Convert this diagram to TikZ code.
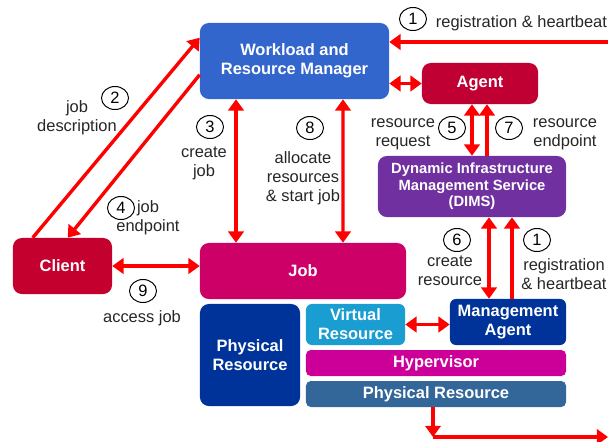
\documentclass[tikz,border=0pt]{standalone}
\usepackage{fontspec}
\setmainfont{Liberation Sans}
\usetikzlibrary{arrows.meta,shapes.geometric,calc}

\definecolor{wrmblue}{HTML}{3366CC}
\definecolor{agentred}{HTML}{C00033}
\definecolor{clientred}{HTML}{C4002E}
\definecolor{jobpink}{HTML}{CC0066}
\definecolor{dimspurple}{HTML}{7030A0}
\definecolor{navy}{HTML}{003399}
\definecolor{vresblue}{HTML}{1A9DD0}
\definecolor{hypermag}{HTML}{CC0099}
\definecolor{steel}{HTML}{336699}

\begin{document}
\begin{tikzpicture}[>={Triangle[length=8pt,width=11pt]},x=0.025cm,y=-0.025cm,
  font=\fontsize{11.7}{13.5}\selectfont,
  box/.style={rounded corners=0.22cm,text=white,font=\fontsize{11.7}{13.5}\selectfont\bfseries,align=center,inner sep=0pt},
  num/.style={draw,ellipse,line width=0.7pt,minimum width=0.675cm,minimum height=0.575cm,inner sep=0pt},
  lbl/.style={align=center,text=black!85},
  link/.style={red,line width=2.4pt}]
  \useasboundingbox (0,0) rectangle (608,442);

  \node[box,fill=wrmblue,minimum width=4.725cm,minimum height=1.9cm]  (wrm)    at (294.5,61)  {Workload and\\Resource Manager};
  \node[box,fill=agentred,minimum width=2.9cm,minimum height=1.025cm] (agent)  at (480,83.5)  {Agent};
  \node[box,fill=dimspurple,minimum width=4.7cm,minimum height=1.525cm,font=\fontsize{10.5}{11.8}\selectfont\bfseries] (dims) at (472,186.5) {Dynamic Infrastructure\\Management Service\\(DIMS)};
  \node[box,fill=clientred,minimum width=2.475cm,minimum height=1.4cm] (client) at (62.5,266)  {Client};
  \node[box,fill=jobpink,minimum width=5.15cm,minimum height=1.4cm]   (job)    at (303,271)   {Job};
  \node[box,fill=navy,minimum width=2.5cm,minimum height=2.55cm]      (phys)   at (250,355)   {Physical\\Resource};
  \node[box,fill=vresblue,minimum width=2.475cm,minimum height=1.025cm,rounded corners=0.15cm] (vres) at (355.5,324.5) {Virtual\\Resource};
  \node[box,fill=navy,minimum width=2.9cm,minimum height=1.15cm,rounded corners=0.15cm] (magent) at (508,322) {Management\\Agent};
  \node[box,fill=hypermag,minimum width=6.5cm,minimum height=0.65cm,rounded corners=0.12cm] (hyper) at (436,363) {Hypervisor};
  \node[box,fill=steel,minimum width=6.5cm,minimum height=0.65cm,rounded corners=0.12cm] (host) at (436,394) {Physical Resource};

  \coordinate (regin)  at (608,42);
  \coordinate (bend)   at (433,437);
  \coordinate (regout) at (608,437);

  \path[link,->] (regin) edge (regin -| wrm.east)
        ($(client.north west)+(20,0)$) edge ($(wrm.north west)+(0,15)$)
        ($(wrm.north west)+(0,52)$) edge ($(client.north west)+(55,0)$)
        ($(dims.north)+(15,0)$) edge ($(agent.south)+(7,0)$)
        ($(magent.north)+(4,0)$) edge ($(dims.south)+(40,0)$)
        ($(host.south)+(-3,0)$) edge (bend)
        (bend) edge (regout);

  \path[link,<->] (agent.west) edge (agent.west -| wrm.east)
        ($(wrm.south)+(-58.5,0)$) edge ($(job.north)+(-67,0)$)
        ($(wrm.south)+(48.5,0)$) edge ($(job.north)+(40,0)$)
        ($(agent.south)+(-8,0)$) edge (dims.north)
        ($(dims.south)+(17,0)$) edge ($(magent.north)+(-19,0)$)
        (client.east) edge (client.east -| job.west)
        (vres.east) edge (vres.east -| magent.west);

  \node[num] (n1)  at (413,19)  {1};
  \node[lbl,anchor=west] (reg) at (431,23) {registration \& heartbeat};
  \node[num] (n2)  at (115,98)  {2};
  \node[lbl] (jobdesc) at (77,118) {job\\description};
  \node[num] (n3)  at (210,127) {3};
  \node[lbl] (create) at (204,163) {create\\job};
  \node[num] (n4)  at (121,208) {4};
  \node[lbl] (jobend) at (148,218) {job\\endpoint};
  \node[num] (n5)  at (452,128) {5};
  \node[lbl] (resreq) at (403,134) {resource\\request};
  \node[num] (n6)  at (457,240) {6};
  \node[lbl] (crres) at (450,271) {create\\resource};
  \node[num] (n7)  at (509,128) {7};
  \node[lbl] (resend) at (565,134) {resource\\endpoint};
  \node[num] (n8)  at (310,128) {8};
  \node[lbl] (alloc) at (303,178) {allocate\\resources\\\& start job};
  \node[num] (n9)  at (143,291) {9};
  \node[lbl] (access) at (142,318) {access job};
  \node[num] (n1b) at (537,240) {1};
  \node[lbl] (regb) at (564,274) {registration\\\& heartbeat};
\end{tikzpicture}
\end{document}
